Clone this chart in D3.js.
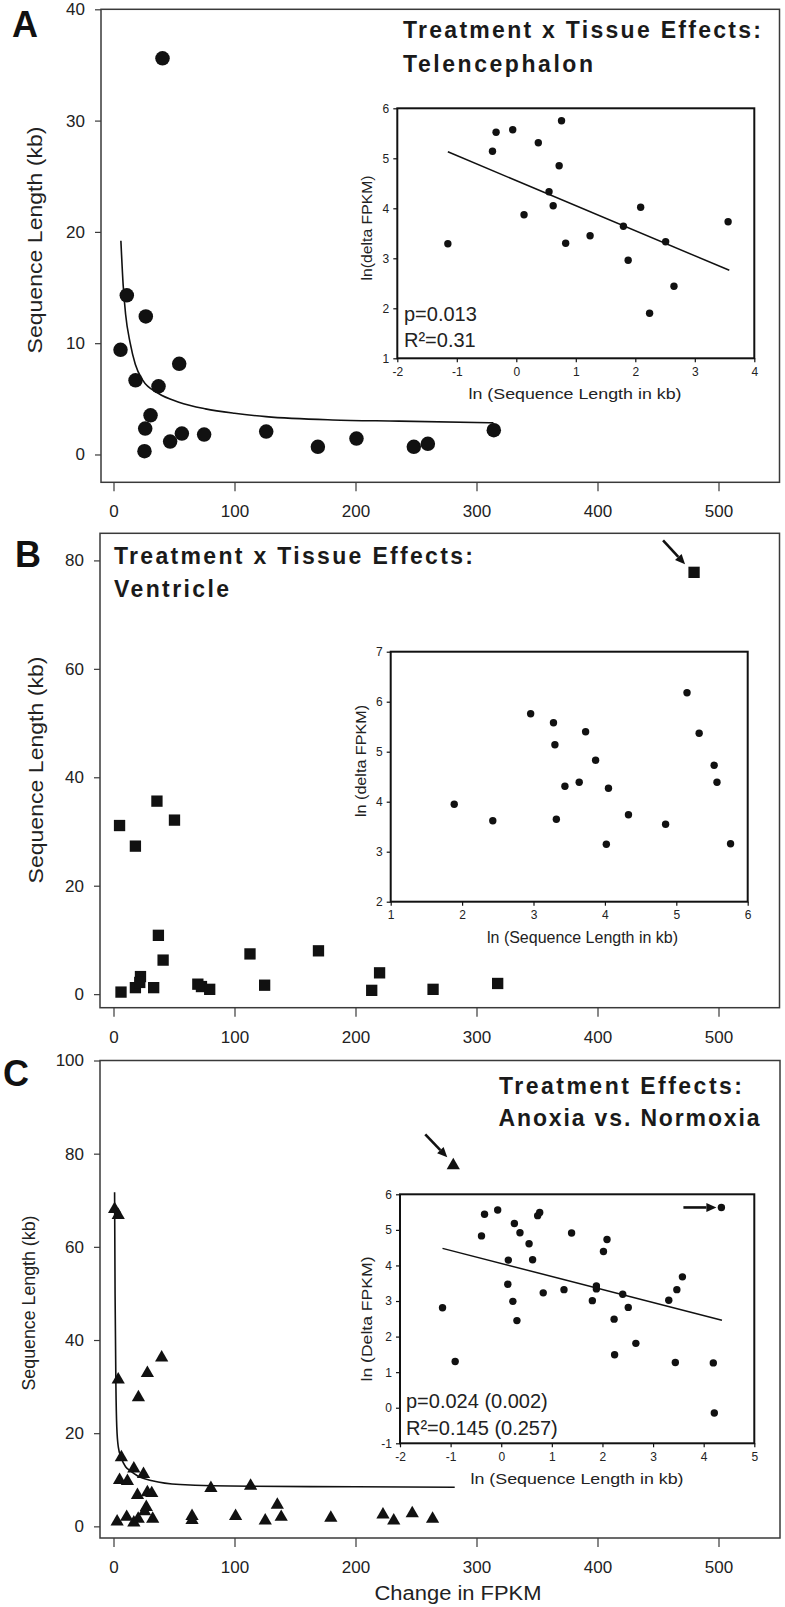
<!DOCTYPE html>
<html>
<head>
<meta charset="utf-8">
<script src="https://cdn.jsdelivr.net/npm/d3@7"></script>
<style>
  html, body { margin: 0; padding: 0; background: #fff; }
  svg { display: block; font-family: "Liberation Sans", Arial, Helvetica, sans-serif; }
</style>
</head>
<body>
<svg id="chart" width="785" height="1607"></svg>
<script>
// ---- Panel A: Telencephalon ----
var aFpkm   = [40.5, 11.0, 26.7, 5.8, 54.3, 18.2, 37.2, 30.6, 26.2, 25.6, 46.8, 56.5, 74.9, 126.2, 168.9, 200.8, 248.2, 259.8, 314.3];
var aLength = [35.6, 14.3, 12.4, 9.4, 8.15, 6.66, 6.12, 3.52, 2.33, 0.30, 1.16, 1.88, 1.79, 2.06, 0.69, 1.43, 0.69, 0.96, 2.18];
var aFitX   = [6.1, 8, 10, 13.8, 18, 24, 37, 54, 76, 100, 126, 181, 236, 314];
var aFitY   = [19.2, 15.2, 12.6, 10.0, 8.1, 6.7, 5.5, 4.7, 4.1, 3.7, 3.4, 3.1, 3.0, 2.84];
var aLnLen   = [-1.15, -0.40, -0.34, -0.06, 0.37, 0.76, 0.72, 0.55, 0.62, 0.13, 0.83, 1.24, 1.80, 2.09, 1.88, 2.24, 2.51, 2.65, 3.56];
var aLnDelta = [3.29, 5.14, 5.52, 5.57, 5.31, 5.75, 4.85, 4.33, 4.05, 3.87, 3.30, 3.45, 3.64, 4.02, 2.96, 1.90, 3.33, 2.44, 3.73];
var aRegX = [-1.15, 3.58];
var aRegY = [5.13, 2.76];

// ---- Panel B: Ventricle ----
var bFpkm   = [5.0, 18.1, 35.9, 50.4, 37.1, 41.0, 6.2, 18.1, 22.3, 21.7, 33.2, 69.7, 72.7, 79.5, 112.8, 124.9, 169.4, 213.4, 219.9, 264.1, 317.5, 479.8];
var bLength = [31.1, 27.3, 35.6, 32.1, 10.85, 6.28, 0.38, 1.2, 3.24, 2.16, 1.2, 1.84, 1.4, 0.89, 7.42, 1.65, 7.99, 0.70, 3.93, 0.89, 1.97, 77.8];
var bLnLen   = [1.89, 2.43, 2.96, 3.28, 3.30, 3.32, 3.44, 3.64, 3.73, 3.87, 4.05, 4.02, 4.33, 4.85, 5.15, 5.32, 5.53, 5.57, 5.76];
var bLnDelta = [3.95, 3.62, 5.76, 5.58, 5.14, 3.65, 4.31, 4.39, 5.40, 4.83, 4.27, 3.15, 3.74, 3.55, 6.18, 5.37, 4.73, 4.39, 3.16];

// ---- Panel C: Anoxia vs. Normoxia ----
var cFpkm   = [0.9, 3.9, 3.9, 39.8, 28.0, 20.6, 6.5, 5.0, 11.5, 16.8, 24.8, 19.8, 28.0, 31.6, 27.1, 25.7, 3.0, 10.9, 16.8, 20.4, 32.4, 64.9, 64.9, 80.5, 100.9, 113.3, 125.4, 135.4, 138.6, 179.6, 222.7, 231.6, 246.9, 263.7, 280.8];
var cLength = [68.1, 66.8, 31.5, 36.2, 32.9, 27.7, 14.8, 9.9, 9.7, 12.4, 11.2, 6.7, 7.3, 7.1, 4.1, 3.2, 1.0, 2.0, 0.8, 1.6, 1.6, 2.2, 1.3, 8.2, 2.2, 8.7, 1.2, 4.6, 2.0, 1.8, 2.5, 1.2, 2.8, 1.6, 77.5];
var cFitX   = [0.9, 1.3, 2.0, 2.7, 4, 6.5, 10, 14, 20, 32, 55, 114, 200, 282];
var cFitY   = [71.7, 50, 30, 21.4, 17, 14.6, 12.8, 11.9, 10.8, 9.8, 9.0, 8.6, 8.5, 8.4];
var cLnLen   = [-1.16, -0.91, -0.39, -0.33, -0.07, 0.14, 0.13, 0.23, 0.31, 0.26, 0.37, 0.55, 0.62, 0.72, 0.76, 0.83, 1.24, 1.39, 1.80, 1.88, 1.88, 2.02, 2.09, 2.23, 2.24, 2.40, 2.51, 2.66, 3.31, 3.47, 3.58, 3.44, 4.19, 4.21, 4.35];
var cLnDelta = [2.81, 1.30, 4.83, 5.44, 5.56, 4.15, 3.47, 2.99, 2.45, 5.18, 4.92, 4.61, 4.16, 5.40, 5.49, 3.23, 3.32, 4.91, 3.01, 3.34, 3.42, 4.39, 4.73, 2.49, 1.49, 3.19, 2.82, 1.81, 3.02, 3.32, 3.68, 1.27, 1.26, -0.15, 5.63];
var cRegX = [-1.16, 4.36];
var cRegY = [4.48, 2.46];

// ---- tick labels ----
var mainXTicks = [0, 100, 200, 300, 400, 500];
var aYTicks = [0, 10, 20, 30, 40];
var bYTicks = [0, 20, 40, 60, 80];
var cYTicks = [0, 20, 40, 60, 80, 100];
var aInsetX = [-2, -1, 0, 1, 2, 3, 4], aInsetY = [1, 2, 3, 4, 5, 6];
var bInsetX = [1, 2, 3, 4, 5, 6],      bInsetY = [2, 3, 4, 5, 6, 7];
var cInsetX = [-2, -1, 0, 1, 2, 3, 4, 5], cInsetY = [-1, 0, 1, 2, 3, 4, 5, 6];

var svg = d3.select('#chart');
var FRAME = '#3a3a3a';
var plain = function(d) { return String(d); };   // keeps "-2" with a plain hyphen

// shared x mapping for the three big panels
function mainX() {
  return d3.scaleLinear().domain([0, 500]).range([113.5, 718.5]);
}

function zip(xs, ys) { return xs.map(function(v, i) { return [v, ys[i]]; }); }

function drawMain(p) {
  var g = svg.append('g');
  var x = mainX();
  var y = d3.scaleLinear().domain(p.yDomain).range([p.bottom, p.top]);

  g.append('g')
    .attr('transform', 'translate(0,' + p.bottom + ')')
    .call(d3.axisBottom(x).tickValues(mainXTicks).tickFormat(plain).tickSize(9).tickPadding(14).tickSizeOuter(0))
    .call(styleAxis, 17, FRAME, 1.2);
  g.append('g')
    .attr('transform', 'translate(' + p.left + ',0)')
    .call(d3.axisLeft(y).tickValues(p.yTicks).tickFormat(plain).tickSize(6).tickPadding(10).tickSizeOuter(0))
    .call(styleAxis, 17, FRAME, 1.2);

  g.append('rect')
    .attr('x', p.left).attr('y', p.top)
    .attr('width', p.right - p.left).attr('height', p.bottom - p.top)
    .attr('fill', 'none').attr('stroke', FRAME).attr('stroke-width', 1.5);

  // y title
  g.append('text')
    .attr('transform', 'translate(' + p.yTitle[0] + ',' + p.yTitle[1] + ') rotate(-90)')
    .attr('text-anchor', 'middle').attr('dominant-baseline', 'central')
    .attr('font-size', p.yTitleSize).attr('fill', '#222')
    .attr('textLength', p.yTitleLen).attr('lengthAdjust', 'spacingAndGlyphs')
    .text('Sequence Length (kb)');

  // panel letter
  g.append('text').attr('x', p.letter[0]).attr('y', p.letter[1])
    .attr('font-size', 36).attr('font-weight', 'bold').attr('fill', '#111')
    .text(p.letterText);

  // title lines
  p.title.forEach(function(t) {
    g.append('text').attr('x', t.x).attr('y', t.y)
      .attr('font-size', 23).attr('font-weight', 'bold').attr('fill', '#1a1a1a')
      .attr('textLength', t.len).attr('lengthAdjust', 'spacing')
      .text(t.text);
  });

  if (p.fit) {
    g.append('path')
      .datum(p.fit)
      .attr('fill', 'none').attr('stroke', '#111').attr('stroke-width', 1.6)
      .attr('d', d3.line().x(function(d) { return x(d[0]); }).y(function(d) { return y(d[1]); }).curve(d3.curveMonotoneX));
  }

  var sym = d3.symbol().type(p.symbol).size(p.symbolSize);
  g.append('g').selectAll('path')
    .data(p.points).enter().append('path')
    .attr('transform', function(d) { return 'translate(' + x(d[0]) + ',' + y(d[1]) + ')'; })
    .attr('d', sym).attr('fill', '#111');

  return { x: x, y: y, g: g };
}

function drawInset(p) {
  var g = svg.append('g');
  var x = d3.scaleLinear().domain(p.xDomain).range([p.left, p.right]);
  var y = d3.scaleLinear().domain(p.yDomain).range([p.bottom, p.top]);

  g.append('g')
    .attr('transform', 'translate(0,' + p.bottom + ')')
    .call(d3.axisBottom(x).tickValues(p.xTicks).tickFormat(plain).tickSize(4).tickPadding(5).tickSizeOuter(0))
    .call(styleAxis, 12, '#111', 1.2);
  g.append('g')
    .attr('transform', 'translate(' + p.left + ',0)')
    .call(d3.axisLeft(y).tickValues(p.yTicks).tickFormat(plain).tickSize(4).tickPadding(4).tickSizeOuter(0))
    .call(styleAxis, 12, '#111', 1.2);

  g.append('rect')
    .attr('x', p.left).attr('y', p.top)
    .attr('width', p.right - p.left).attr('height', p.bottom - p.top)
    .attr('fill', 'none').attr('stroke', '#111').attr('stroke-width', 2);

  g.append('text')
    .attr('x', p.xTitle[0]).attr('y', p.xTitle[1])
    .attr('text-anchor', 'middle').attr('font-size', p.xTitleSize).attr('fill', '#222')
    .attr('textLength', p.xTitleLen).attr('lengthAdjust', 'spacingAndGlyphs')
    .text('ln (Sequence Length in kb)');
  g.append('text')
    .attr('transform', 'translate(' + p.yTitle[0] + ',' + p.yTitle[1] + ') rotate(-90)')
    .attr('text-anchor', 'middle').attr('dominant-baseline', 'central')
    .attr('font-size', 14).attr('fill', '#222')
    .attr('textLength', p.yTitleLen).attr('lengthAdjust', 'spacingAndGlyphs')
    .text(p.yTitleText);

  if (p.reg) {
    g.append('path').datum(p.reg)
      .attr('fill', 'none').attr('stroke', '#111').attr('stroke-width', 1.5)
      .attr('d', d3.line().x(function(d) { return x(d[0]); }).y(function(d) { return y(d[1]); }));
  }

  g.append('g').selectAll('circle')
    .data(p.points).enter().append('circle')
    .attr('cx', function(d) { return x(d[0]); })
    .attr('cy', function(d) { return y(d[1]); })
    .attr('r', 3.7).attr('fill', '#111');

  if (p.stats) {
    p.stats.forEach(function(s) {
      g.append('text').attr('x', s.x).attr('y', s.y)
        .attr('font-size', 20).attr('fill', '#222')
        .text(s.text);
    });
  }
  return { x: x, y: y, g: g };
}

function styleAxis(sel, size, color, width) {
  sel.select('.domain').remove();
  sel.selectAll('.tick line').attr('stroke', color).attr('stroke-width', width);
  sel.selectAll('.tick text')
    .attr('font-size', size).attr('fill', '#222')
    .attr('font-family', '"Liberation Sans", Arial, sans-serif');
}

function arrow(g, x1, y1, x2, y2) {
  var ang = Math.atan2(y2 - y1, x2 - x1);
  var hl = 10, hw = 4.5;
  var bx = x2 - hl * Math.cos(ang), by = y2 - hl * Math.sin(ang);
  g.append('line').attr('x1', x1).attr('y1', y1).attr('x2', bx).attr('y2', by)
    .attr('stroke', '#111').attr('stroke-width', 2.6);
  g.append('path')
    .attr('d', 'M' + x2 + ',' + y2 +
      'L' + (bx + hw * Math.sin(ang)) + ',' + (by - hw * Math.cos(ang)) +
      'L' + (bx - hw * Math.sin(ang)) + ',' + (by + hw * Math.cos(ang)) + 'Z')
    .attr('fill', '#111');
}

// ---------- Panel A ----------
drawMain({
  left: 101, right: 779.5, top: 9.3, bottom: 482.3, yDomain: [-2.5, 40], yTicks: aYTicks,
  yTitle: [35, 240], yTitleSize: 20, yTitleLen: 227,
  letter: [12, 37], letterText: 'A',
  title: [
    { text: 'Treatment x Tissue Effects:', x: 403, y: 38, len: 358 },
    { text: 'Telencephalon', x: 403, y: 72, len: 190 }
  ],
  fit: zip(aFitX, aFitY),
  symbol: d3.symbolCircle, symbolSize: 165,
  points: zip(aFpkm, aLength)
});
drawInset({
  left: 397.3, right: 754.3, top: 108.3, bottom: 358.3,
  xDomain: [-2, 4], yDomain: [1, 6], xTicks: aInsetX, yTicks: aInsetY,
  xTitle: [575, 399], xTitleSize: 15, xTitleLen: 213,
  yTitle: [366.5, 228], yTitleLen: 105, yTitleText: 'ln(delta FPKM)',
  reg: zip(aRegX, aRegY),
  points: zip(aLnLen, aLnDelta),
  stats: [{ text: 'p=0.013', x: 404, y: 321 }, { text: 'R\u00B2=0.31', x: 404, y: 347 }]
});

// ---------- Panel B ----------
var pb = drawMain({
  left: 100, right: 779.5, top: 533.3, bottom: 1007.7, yDomain: [-2.5, 85], yTicks: bYTicks,
  yTitle: [35.5, 770], yTitleSize: 20, yTitleLen: 227,
  letter: [15, 567], letterText: 'B',
  title: [
    { text: 'Treatment x Tissue Effects:', x: 114, y: 564, len: 359 },
    { text: 'Ventricle', x: 114, y: 597, len: 115 }
  ],
  fit: null,
  symbol: d3.symbolSquare, symbolSize: 128,
  points: zip(bFpkm, bLength)
});
drawInset({
  left: 390.7, right: 747.7, top: 651.7, bottom: 901.7,
  xDomain: [1, 6], yDomain: [2, 7], xTicks: bInsetX, yTicks: bInsetY,
  xTitle: [582.5, 943], xTitleSize: 16, xTitleLen: 191,
  yTitle: [361, 761], yTitleLen: 112, yTitleText: 'ln (delta FPKM)',
  reg: null,
  points: zip(bLnLen, bLnDelta)
});
var bOut = bFpkm.length - 1;
var bx0 = pb.x(bFpkm[bOut]), by0 = pb.y(bLength[bOut]);
arrow(pb.g, bx0 - 31, by0 - 32, bx0 - 9, by0 - 8);

// ---------- Panel C ----------
var pc = drawMain({
  left: 100, right: 780, top: 1060.5, bottom: 1538, yDomain: [-2.5, 100], yTicks: cYTicks,
  yTitle: [28.5, 1303], yTitleSize: 19, yTitleLen: 175,
  letter: [3, 1086], letterText: 'C',
  title: [
    { text: 'Treatment Effects:', x: 499, y: 1093.5, len: 243 },
    { text: 'Anoxia vs. Normoxia', x: 498.5, y: 1126, len: 261 }
  ],
  fit: zip(cFitX, cFitY),
  symbol: d3.symbolTriangle, symbolSize: 76,
  points: zip(cFpkm, cLength)
});
pc.g.append('text').attr('x', 458).attr('y', 1600)
  .attr('text-anchor', 'middle').attr('font-size', 20).attr('fill', '#222')
  .attr('textLength', 167).attr('lengthAdjust', 'spacingAndGlyphs')
  .text('Change in FPKM');
var cOut = cFpkm.length - 1;
var cx0 = pc.x(cFpkm[cOut]), cy0 = pc.y(cLength[cOut]);
arrow(pc.g, cx0 - 28, cy0 - 31, cx0 - 6, cy0 - 8);

var ic = drawInset({
  left: 400, right: 754.3, top: 1194.3, bottom: 1443.3,
  xDomain: [-2, 5], yDomain: [-1, 6], xTicks: cInsetX, yTicks: cInsetY,
  xTitle: [577, 1484], xTitleSize: 15, xTitleLen: 213,
  yTitle: [367, 1319], yTitleLen: 125, yTitleText: 'ln (Delta FPKM)',
  reg: zip(cRegX, cRegY),
  points: zip(cLnLen, cLnDelta),
  stats: [{ text: 'p=0.024 (0.002)', x: 406, y: 1408 }, { text: 'R\u00B2=0.145 (0.257)', x: 406, y: 1435 }]
});
var ci = cLnLen.length - 1;
var icx = ic.x(cLnLen[ci]), icy = ic.y(cLnDelta[ci]);
arrow(ic.g, icx - 38, icy, icx - 5, icy);
</script>
</body>
</html>
